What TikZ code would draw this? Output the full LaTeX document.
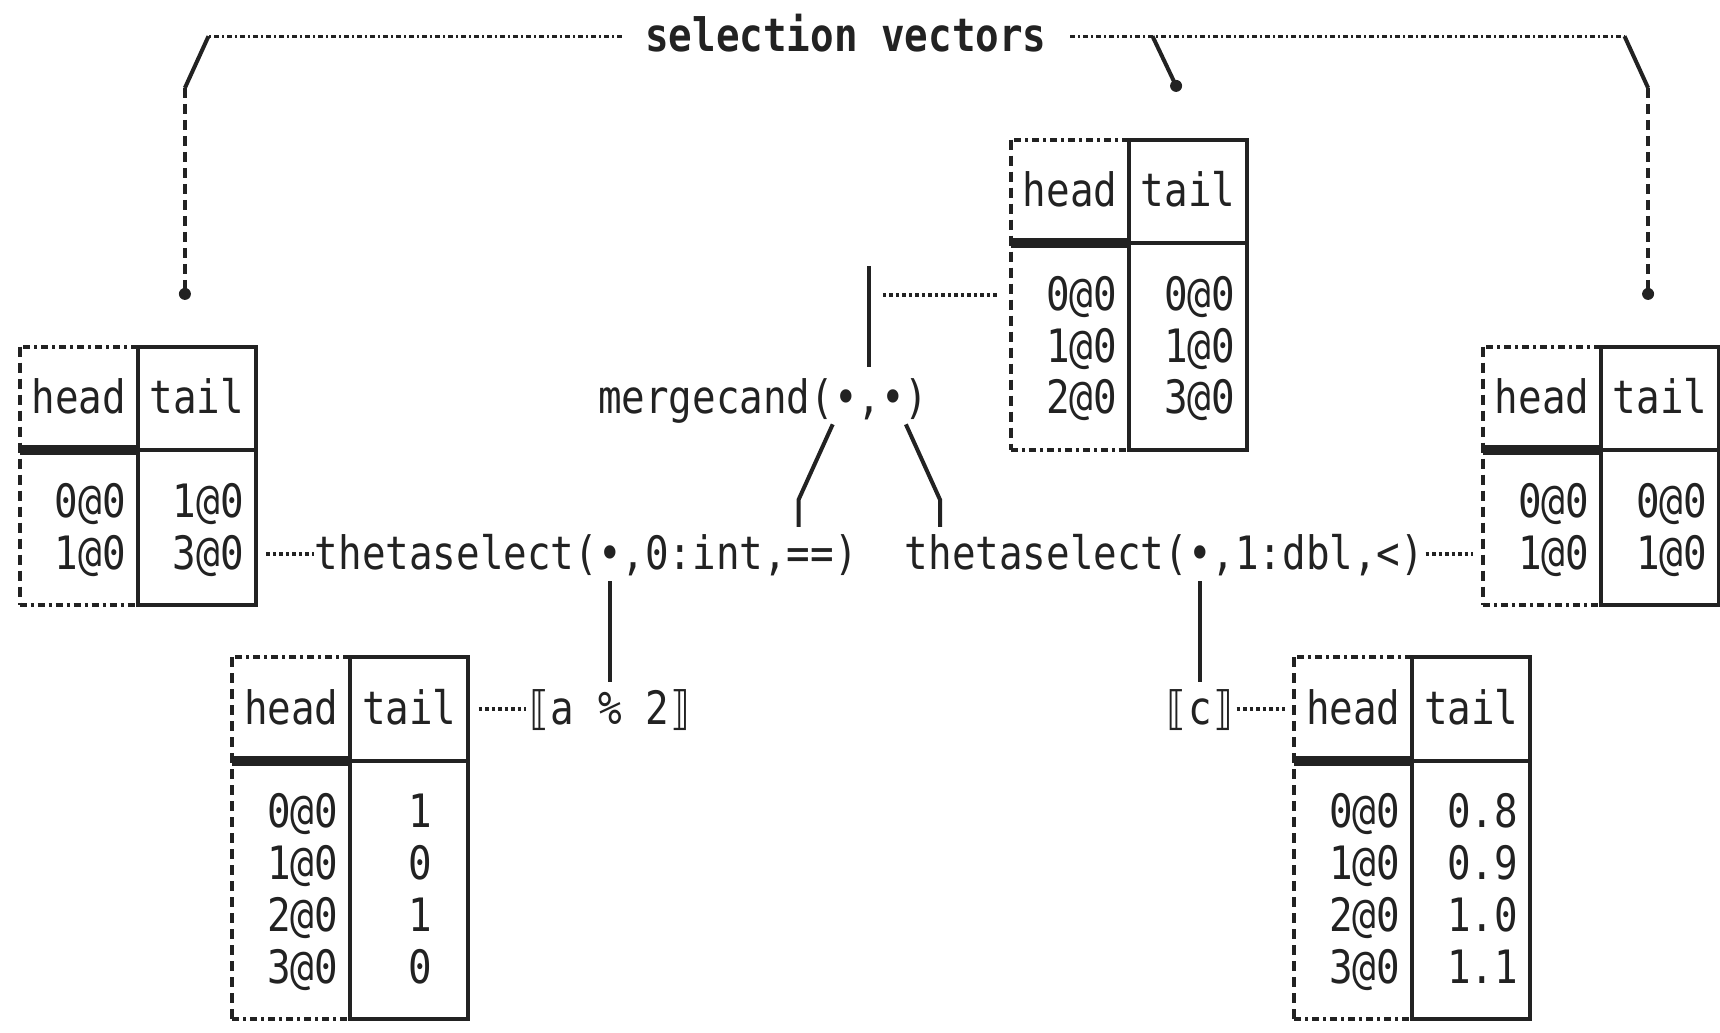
\documentclass[tikz,border=0pt]{standalone}
\usepackage{fontspec}
\setmonofont[FakeStretch=0.8522]{DejaVu Sans Mono}
\usetikzlibrary{calc}
\definecolor{ink}{HTML}{222222}
\tikzset{
  txt/.style={font=\ttfamily\fontsize{46}{52}\selectfont, inner sep=0pt, text height=31pt, text depth=0pt, anchor=west, text=ink},
  ttl/.style={txt, font=\ttfamily\bfseries\fontsize{46}{52}\selectfont},
  sol/.style={draw=ink, line width=4pt},
  tthick/.style={draw=ink, line width=10pt},
  vdash/.style={draw=ink, line width=4pt, dash pattern=on 10pt off 6pt},
  hdash/.style={draw=ink, line width=4pt, dash pattern=on 7pt off 4pt on 3pt off 4pt},
  ddot/.style={draw=ink, line width=4pt, dash pattern=on 3.5pt off 3pt},
  bdot/.style={draw=ink, line width=3pt, dash pattern=on 5pt off 3pt on 2pt off 3pt},
}
\newcommand\drawtable[4]{%
  \coordinate (#1-tl) at (#2,#3);
  \draw[hdash] (#2+5,#3) -- (#2,#3);
  \draw[vdash] (#2,#3) -- (#2,#4);
  \draw[hdash] (#2,#4) -- (#2+5,#4);
  \draw[sol] (#2+5,#3) -- (#2+10,#3) -- (#2+10,#4) -- (#2+5,#4) -- cycle;
  \draw[sol] (#2+5,#3+2) -- (#2+10,#3+2);
  \draw[tthick] (#2,#3+2) -- (#2+5,#3+2);
  \node[txt] (#1-head) at (#2+0.5,#3+1) {head};
  \node[txt] (#1-tail) at (#2+5.5,#3+1) {tail};
}
\newcommand\cellrows[4]{%
  \foreach \v [count=\i from 0] in {#4} {
    \node[txt, anchor=east] (#1\i) at (#2,#3+\i) {\v};
  }%
}
\begin{document}
\begin{tikzpicture}[x=23.6pt,y=-51.75pt]
\useasboundingbox (-0.8347,-0.6995) rectangle (72.047,19.243);

% title and bracket
\node[ttl] (title) at (26.5,0) {selection vectors};
\coordinate (brL) at (8,0);
\coordinate (brLb) at (7,1);
\coordinate (dotL) at (7,4.98);
\coordinate (brR) at (68,0);
\coordinate (brRb) at (69,1);
\coordinate (dotR) at (69,4.98);
\coordinate (brM) at (48,0);
\coordinate (dotM) at (49,0.96);
\draw[bdot] (title.west) ++(-1,0) -- (brL);
\draw[bdot] (title.east) ++(1,0) -- (brR);
\draw[sol] (brL) -- (brLb);
\draw[vdash] (brLb) -- (dotL);
\draw[sol] (brR) -- (brRb);
\draw[vdash] (brRb) -- (dotR);
\draw[sol] (brM) -- (dotM);
\fill[ink] (dotL) circle (6pt);
\fill[ink] (dotR) circle (6pt);
\fill[ink] (dotM) circle (6pt);

% tables
\drawtable{M}{42}{2}{8}
\cellrows{Mh}{46.5}{5}{0@0,1@0,2@0}
\cellrows{Mt}{51.5}{5}{0@0,1@0,3@0}

\drawtable{L}{0}{6}{11}
\cellrows{Lh}{4.5}{9}{0@0,1@0}
\cellrows{Lt}{9.5}{9}{1@0,3@0}

\drawtable{R}{62}{6}{11}
\cellrows{Rh}{66.5}{9}{0@0,1@0}
\cellrows{Rt}{71.5}{9}{0@0,1@0}

\drawtable{BL}{9}{12}{19}
\cellrows{BLh}{13.5}{15}{0@0,1@0,2@0,3@0}
\cellrows{BLt}{17.5}{15}{1,0,1,0}

\drawtable{BR}{54}{12}{19}
\cellrows{BRh}{58.5}{15}{0@0,1@0,2@0,3@0}
\cellrows{BRt}{63.5}{15}{0.8,0.9,1.0,1.1}

% operator texts
\node[txt] (mc) at (24.5,7) {mergecand(•,•)};
\node[txt] (th1) at (12.5,10) {thetaselect(•,0:int,==)};
\node[txt] (th2) at (37.5,10) {thetaselect(•,1:dbl,<)};
\node[txt] (ak) at (21.5,13) {⟦a \% 2⟧};
\node[txt] (ck) at (48.5,13) {⟦c⟧};

% connectors
\coordinate (mcv) at ($(mc.west)+(11.5,-2)$);
\draw[sol] ($(mc.west)+(11.5,-2.55)$) -- ($(mc.west)+(11.5,-0.6)$);
\draw[ddot] ($(mcv)+(0.58,0)$) -- ($(M-tl)+(-0.5,3)$);

\draw[sol] ($(mc.west)+(9.95,0.5)$) -- ($(th1.west)+(20.5,-1.04)$) -- ($(th1.west)+(20.5,-0.52)$);
\draw[sol] ($(mc.west)+(13.05,0.5)$) -- ($(th2.west)+(1.5,-1.04)$) -- ($(th2.west)+(1.5,-0.52)$);

\draw[ddot] ($(L-tl)+(10.45,4)$) -- ($(th1.west)+(-0.05,0)$);
\draw[ddot] ($(th2.east)+(0.05,0)$) -- ($(R-tl)+(-0.4,4)$);

\draw[sol] ($(th1.west)+(12.5,0.53)$) -- ($(ak.west)+(3.5,-0.52)$);
\draw[sol] ($(th2.west)+(12.5,0.53)$) -- ($(ck.west)+(1.5,-0.52)$);

\draw[ddot] ($(BL-tl)+(10.45,1)$) -- ($(ak.west)+(-0.05,0)$);
\draw[ddot] ($(ck.east)+(0.05,0)$) -- ($(BR-tl)+(-0.4,1)$);
\end{tikzpicture}
\end{document}
